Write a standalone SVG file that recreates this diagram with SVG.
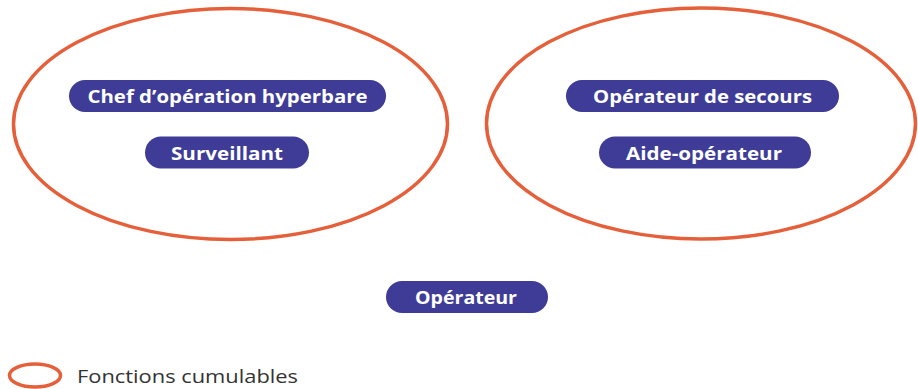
<svg xmlns="http://www.w3.org/2000/svg" width="918" height="389" viewBox="0 0 918 389">
  <style>
    .group { fill: none; stroke: #E5603A; stroke-width: 3.5; }
    .pill { fill: #3E3C97; }
    .label { fill: #FFFFFF; font-family: "Open Sans", "Liberation Sans", sans-serif; font-weight: 700; font-size: 17.5px; text-anchor: middle; }
    .legend-text { fill: #333333; font-family: "Open Sans", "Liberation Sans", sans-serif; font-weight: 400; font-size: 18.5px; }
  </style>

  <rect x="0" y="0" width="918" height="389" fill="#FFFFFF"/>

  <!-- cumulative-function groupings -->
  <g id="groups">
    <ellipse class="group" cx="230.5" cy="124" rx="217" ry="115.5"/>
    <ellipse class="group" cx="701" cy="123.5" rx="214.5" ry="115.5"/>
  </g>

  <g id="chef-operation">
    <rect class="pill" x="69" y="80" width="317" height="32" rx="16"/>
    <text class="label" x="227.5" y="103" textLength="280" lengthAdjust="spacingAndGlyphs">Chef d’opération hyperbare</text>
  </g>

  <g id="surveillant">
    <rect class="pill" x="145" y="136.5" width="164" height="32" rx="16"/>
    <text class="label" x="227" y="159.5" textLength="112" lengthAdjust="spacingAndGlyphs">Surveillant</text>
  </g>

  <g id="operateur-secours">
    <rect class="pill" x="566" y="80" width="273" height="32" rx="16"/>
    <text class="label" x="702.5" y="103" textLength="219" lengthAdjust="spacingAndGlyphs">Opérateur de secours</text>
  </g>

  <g id="aide-operateur">
    <rect class="pill" x="599" y="136.5" width="212" height="32" rx="16"/>
    <text class="label" x="704" y="159.5" textLength="156" lengthAdjust="spacingAndGlyphs">Aide-opérateur</text>
  </g>

  <g id="operateur">
    <rect class="pill" x="386" y="281" width="162" height="32" rx="16"/>
    <text class="label" x="466" y="304" textLength="102" lengthAdjust="spacingAndGlyphs">Opérateur</text>
  </g>

  <g id="legend">
    <ellipse class="group" cx="35" cy="375.5" rx="25.5" ry="11.5" stroke-width="2.5"/>
    <text class="legend-text" x="77" y="383" textLength="221" lengthAdjust="spacingAndGlyphs">Fonctions cumulables</text>
  </g>
</svg>
